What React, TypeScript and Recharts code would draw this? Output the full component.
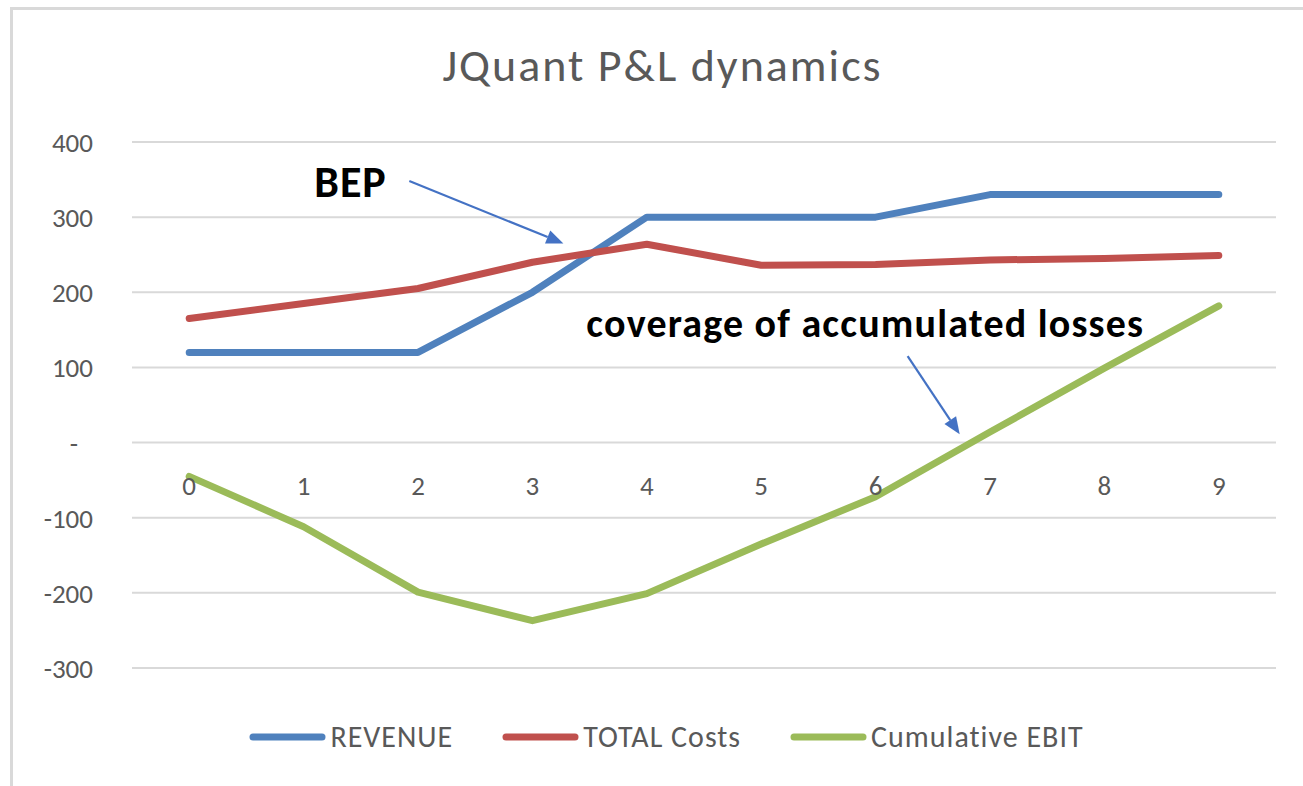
import {
  LineChart,
  Line,
  XAxis,
  YAxis,
  CartesianGrid,
  Legend,
  ReferenceDot,
  ReferenceLine,
} from "recharts";

const FONT = "Calibri, Carlito, Lato, sans-serif";

// P&L values per period
const periods = [0, 1, 2, 3, 4, 5, 6, 7, 8, 9];
const revenue = [120, 120, 120, 200, 300, 300, 300, 330, 330, 330];
const totalCosts = [165, 185, 205, 240, 264, 236, 237, 243, 245, 249];
const cumulativeEbit = [-45, -112, -199, -237, -201, -135, -72, 14, 99, 182];

const yTicks = [-300, -200, -100, 0, 100, 200, 300, 400];

const seriesInfo = [
  { key: "revenue", name: "REVENUE", color: "#4F81BD" },
  { key: "costs", name: "TOTAL Costs", color: "#C0504D" },
  { key: "ebit", name: "Cumulative EBIT", color: "#9BBB59" },
];

// annotations, in chart units (period, value)
const bepText = { x: 1.41, y: 348 };
const bepArrow = [{ x: 1.924, y: 348 }, { x: 3.271, y: 265 }];
const coverText = { x: 5.91, y: 159 };
const coverArrow = [{ x: 6.28, y: 115 }, { x: 6.735, y: 11 }];

const data = periods.map((p, i) => ({
  period: p,
  revenue: revenue[i],
  costs: totalCosts[i],
  ebit: cumulativeEbit[i],
}));


const YTick = (props: any) => {
  const { x, y, payload } = props;
  const zero = payload.value === 0;
  return (
    <text
      x={zero ? x - 15 : x}
      y={y}
      dy={10}
      textAnchor="end"
      fill="#595959"
      fontSize={27}
      fontFamily={FONT}
    >
      {zero ? "-" : payload.value}
    </text>
  );
};


const Arrow = (props: any) => {
  const { x1, y1, x2, y2 } = props;
  const ang = Math.atan2(y2 - y1, x2 - x1);
  const len = 17;
  const half = 7;
  const bx = x2 - len * Math.cos(ang);
  const by = y2 - len * Math.sin(ang);
  const px = -Math.sin(ang) * half;
  const py = Math.cos(ang) * half;
  return (
    <g>
      <line x1={x1} y1={y1} x2={bx} y2={by} stroke="#4472C4" strokeWidth={2.2} />
      <polygon
        points={`${x2},${y2} ${bx + px},${by + py} ${bx - px},${by - py}`}
        fill="#4472C4"
      />
    </g>
  );
};


const LegendContent = () => (
  <div
    style={{
      display: "flex",
      justifyContent: "center",
      alignItems: "center",
      paddingLeft: 77,
      fontFamily: FONT,
      fontSize: 30,
      letterSpacing: 1,
      color: "#595959",
    }}
  >
    {seriesInfo.map((s) => (
      <div key={s.key} style={{ display: "flex", alignItems: "center", marginRight: 48 }}>
        <svg width={80} height={12} style={{ marginRight: 2 }}>
          <line x1={5} y1={6} x2={74} y2={6} stroke={s.color} strokeWidth={7} strokeLinecap="round" />
        </svg>
        <span>{s.name}</span>
      </div>
    ))}
  </div>
);


export default function App() {
  return (
    <div
      style={{
        position: "fixed",
        left: 0,
        top: 0,
        width: 1303,
        height: 786,
        background: "#fff",
        overflow: "hidden",
      }}
    >
      <div
        style={{
          position: "absolute",
          left: 10,
          top: 7,
          width: 1300,
          height: 790,
          borderTop: "3px solid #d9d9d9",
          borderLeft: "3px solid #d9d9d9",
        }}
      />

      <div
        style={{
          position: "absolute",
          left: 0,
          top: 42,
          width: 1325,
          textAlign: "center",
          fontFamily: FONT,
          fontSize: 46,
          lineHeight: "46px",
          letterSpacing: 2,
          color: "#595959",
        }}
      >
        JQuant P&amp;L dynamics
      </div>

      <div style={{ position: "absolute", left: 0, top: 0 }}>
        <LineChart
          width={1303}
          height={786}
          data={data}
          margin={{ top: 142, right: 27, bottom: 118, left: 0 }}
        >
          <CartesianGrid vertical={false} stroke="#d9d9d9" strokeWidth={2} />

          <XAxis
            dataKey="period"
            type="number"
            domain={[-0.5, 9.5]}
            ticks={periods}
            hide
          />

          <YAxis
            width={132}
            domain={[-300, 400]}
            ticks={yTicks}
            axisLine={false}
            tickLine={false}
            tickSize={0}
            tickMargin={39}
            tick={<YTick />}
            interval={0}
          />

          {periods.map((p) => (
            <ReferenceDot
              key={"lbl" + p}
              x={p}
              y={0}
              r={0}
              fill="none"
              stroke="none"
              label={{
                value: String(p),
                position: "bottom",
                offset: 33,
                fill: "#595959",
                fontSize: 27,
                fontFamily: FONT,
              }}
            />
          ))}

          {seriesInfo.map((s) => (
            <Line
              key={s.key}
              type="linear"
              dataKey={s.key}
              name={s.name}
              stroke={s.color}
              strokeWidth={7}
              strokeLinecap="round"
              strokeLinejoin="round"
              dot={false}
              activeDot={false}
              isAnimationActive={false}
            />
          ))}

          <ReferenceLine segment={bepArrow} shape={<Arrow />} ifOverflow="visible" />
          <ReferenceLine segment={coverArrow} shape={<Arrow />} ifOverflow="visible" />

          <ReferenceDot
            x={bepText.x}
            y={bepText.y}
            r={0}
            fill="none"
            stroke="none"
            label={{
              value: "BEP",
              position: "center",
              fill: "#000",
              fontSize: 44,
              letterSpacing: 1,
              fontWeight: "bold",
              fontFamily: FONT,
            }}
          />
          <ReferenceDot
            x={coverText.x}
            y={coverText.y}
            r={0}
            fill="none"
            stroke="none"
            label={{
              value: "coverage of accumulated losses",
              position: "center",
              fill: "#000",
              fontSize: 40,
              letterSpacing: 1.2,
              fontWeight: "bold",
              fontFamily: FONT,
            }}
          />

          <Legend
            verticalAlign="middle"
            align="center"
            content={<LegendContent />}
            wrapperStyle={{ top: 718, left: 0, width: 1303 }}
          />
        </LineChart>
      </div>
    </div>
  );
}
